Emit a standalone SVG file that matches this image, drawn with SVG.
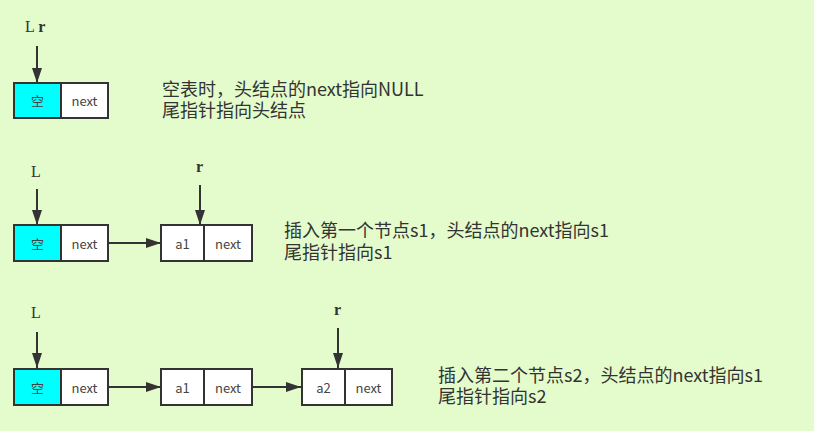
<svg xmlns="http://www.w3.org/2000/svg" width="814" height="431" viewBox="0 0 814 431">
<style>
.cell{fill:#fff;stroke:#333;stroke-width:2}
.head{fill:#0ff;stroke:#333;stroke-width:2}
.ct{font-family:"Microsoft YaHei","Noto Sans CJK SC",sans-serif;font-size:13px;fill:#444;text-anchor:middle;dominant-baseline:central}
.lbl{font-family:"Liberation Serif","DejaVu Serif",serif;font-size:16px;fill:#333}
.b{font-weight:bold}
.desc{font-family:"Microsoft YaHei","Noto Sans CJK SC",sans-serif;font-size:18px;fill:#333}
.ln{stroke:#333;stroke-width:2;fill:none}
</style>
<defs>
<marker id="ah" markerUnits="userSpaceOnUse" markerWidth="16" markerHeight="12" refX="15" refY="5" orient="auto">
<path d="M0,0 L15,5 L0,10 Z" fill="#333"/>
</marker>
</defs>
<rect width="814" height="431" fill="#e4fbcc"/>

<g id="connectors">
<line class="ln" x1="37" y1="46" x2="37" y2="83" marker-end="url(#ah)"/>
<line class="ln" x1="37" y1="189" x2="37" y2="225" marker-end="url(#ah)"/>
<line class="ln" x1="200" y1="185" x2="200" y2="225" marker-end="url(#ah)"/>
<line class="ln" x1="108" y1="243" x2="161" y2="243" marker-end="url(#ah)"/>
<line class="ln" x1="37" y1="332" x2="37" y2="368" marker-end="url(#ah)"/>
<line class="ln" x1="338" y1="328" x2="338" y2="368" marker-end="url(#ah)"/>
<line class="ln" x1="108" y1="387" x2="161" y2="387" marker-end="url(#ah)"/>
<line class="ln" x1="252" y1="387" x2="301" y2="387" marker-end="url(#ah)"/>
</g>

<g id="row1">
<text class="lbl" x="25" y="32">L <tspan class="b">r</tspan></text>
<g id="r1-head">
<rect class="head" x="14" y="83" width="47" height="35"/>
<rect class="cell" x="61" y="83" width="47" height="35"/>
<text class="ct" x="37.5" y="100.5">空</text>
<text class="ct" x="84.5" y="100.5">next</text>
</g>
<text class="desc" x="162" y="96">空表时，头结点的next指向NULL<tspan x="162" dy="21">尾指针指向头结点</tspan></text>
</g>

<g id="row2">
<text class="lbl" x="31" y="177">L</text>
<text class="lbl b" x="196" y="172">r</text>
<g id="r2-head">
<rect class="head" x="14" y="225" width="47" height="36"/>
<rect class="cell" x="61" y="225" width="47" height="36"/>
<text class="ct" x="37.5" y="243">空</text>
<text class="ct" x="84.5" y="243">next</text>
</g>
<g id="r2-a1">
<rect class="cell" x="161" y="225" width="43" height="36"/>
<rect class="cell" x="204" y="225" width="48" height="36"/>
<text class="ct" x="182.5" y="243">a1</text>
<text class="ct" x="228" y="243">next</text>
</g>
<text class="desc" x="284" y="237">插入第一个节点s1，头结点的next指向s1<tspan x="284" dy="22">尾指针指向s1</tspan></text>
</g>

<g id="row3">
<text class="lbl" x="31" y="318">L</text>
<text class="lbl b" x="334" y="315">r</text>
<g id="r3-head">
<rect class="head" x="14" y="369" width="47" height="36"/>
<rect class="cell" x="61" y="369" width="47" height="36"/>
<text class="ct" x="37.5" y="387">空</text>
<text class="ct" x="84.5" y="387">next</text>
</g>
<g id="r3-a1">
<rect class="cell" x="161" y="369" width="43" height="36"/>
<rect class="cell" x="204" y="369" width="48" height="36"/>
<text class="ct" x="182.5" y="387">a1</text>
<text class="ct" x="228" y="387">next</text>
</g>
<g id="r3-a2">
<rect class="cell" x="302" y="369" width="43" height="36"/>
<rect class="cell" x="345" y="369" width="47" height="36"/>
<text class="ct" x="323.5" y="387">a2</text>
<text class="ct" x="368.5" y="387">next</text>
</g>
<text class="desc" x="438" y="382">插入第二个节点s2，头结点的next指向s1<tspan x="438" dy="21">尾指针指向s2</tspan></text>
</g>
</svg>
